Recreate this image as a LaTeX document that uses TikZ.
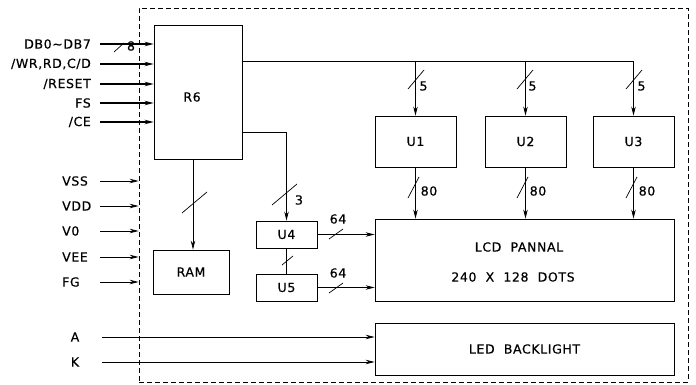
\documentclass[tikz,border=0pt]{standalone}
\usepackage{fontspec}
\setmainfont{DejaVu Sans}[LetterSpace=5,FakeBold=0.5]
\usetikzlibrary{arrows.meta}
\begin{document}
\begin{tikzpicture}[x=1pt,y=-1pt,
  font=\fontsize{12.5}{14}\selectfont,
  box/.style={draw,line width=0.8pt,inner sep=0pt},
  conn/.style={line width=0.8pt},
  arr/.style={conn,-{Stealth[length=9pt,width=4.5pt]}},
  thickarr/.style={line width=1.4pt,-{Stealth[length=9pt,width=4.5pt]}},
  slash/.style={line width=0.7pt},
  frame/.style={draw,line width=0.8pt,dash pattern=on 5pt off 3pt}]
\useasboundingbox (0,0) rectangle (696,385);
\fill[white] (0,0) rectangle (696,385);

% frame
\node[frame,minimum width=549pt,minimum height=374pt,inner sep=0pt] (fr) at (413.5,195) {};

% boxes
\node[box,minimum width=88pt,minimum height=134pt] (R6) at (198,92) {};
\node (R6t) at (192,97) {R6};
\node[box,minimum width=76pt,minimum height=44pt] (RAM) at (191,272) {RAM};
\node[box,minimum width=81pt,minimum height=51pt] (U1) at (415.5,141.5) {U1};
\node[box,minimum width=81pt,minimum height=51pt] (U2) at (525.5,141.5) {U2};
\node[box,minimum width=81pt,minimum height=51pt] (U3) at (633.5,141.5) {U3};
\node[box,minimum width=61pt,minimum height=27pt] (U4) at (286.5,234.5) {U4};
\node[box,minimum width=61pt,minimum height=27pt] (U5) at (286.5,287.5) {U5};
\node[box,minimum width=299pt,minimum height=82pt] (LCD) at (524.5,260) {};
\node (LCDa) at (519,247) {LCD\ \ PANNAL};
\node (LCDb) at (513,277) {240\ \ X\ \ 128\ \ DOTS};
\node[box,minimum width=299pt,minimum height=52pt] (LED) at (524.5,349) {LED\ \ BACKLIGHT};

% left inputs to R6
\foreach \n/\y/\t in {i1/44/{DB0\textasciitilde DB7}, i2/64/{/WR,RD,C/D}, i3/84/{/RESET}, i4/103/{FS}, i5/122/{/CE}}{
  \coordinate (\n) at (100,\y);
  \node[anchor=east,inner sep=0pt] (\n l) at (91,\y) {\t};
  \draw[thickarr] (\n) -- (\n -| R6.west);
}
\draw[slash] (114,52) -- (124,43);
\node (n8) at (131,46) {8};

% power inputs
\foreach \n/\y/\t in {p1/181/VSS, p2/206/VDD, p3/231/V0, p4/257/VEE, p5/282/FG}{
  \coordinate (\n) at (100,\y);
  \node[anchor=west,inner sep=0pt] (\n l) at (62,\y) {\t};
  \draw[arr] (\n) -- (\n -| fr.west);
}

% backlight inputs
\foreach \n/\y/\t in {a/337/A, k/362/K}{
  \coordinate (\n) at (102,\y);
  \node (\n l) at (75,\y) {\t};
  \draw[arr] (\n) -- (\n -| LED.west);
}

% R6 bus to U1..U3
\coordinate (b0) at (242,61);
\draw[arr] (b0) -| (U3.north);
\draw[arr] (U1.north |- b0) -- (U1.north);
\draw[arr] (U2.north |- b0) -- (U2.north);
\foreach \x/\n in {416/s1,525/s2,634/s3}{
  \draw[slash] (\x-8,89) -- (\x+8,70);
  \node (\n) at (\x+7.5,86) {5};
}

% U1..U3 to LCD
\draw[arr] (U1.south) -- (U1.south |- LCD.north);
\draw[arr] (U2.south) -- (U2.south |- LCD.north);
\draw[arr] (U3.south) -- (U3.south |- LCD.north);
\foreach \x/\n in {416/e1,525/e2,634/e3}{
  \draw[slash] (\x-8,198) -- (\x+3,177);
  \node (\n) at (\x+13,191) {80};
}

% R6 to U4
\coordinate (b1) at (242,132);
\draw[arr] (b1) -| (U4.north);
\draw[slash] (272,205) -- (297,184);
\node (n3) at (299,200) {3};

% U4 - U5
\draw[conn] (U4.south) -- (U5.north);
\draw[slash] (282,265) -- (293,256);

% R6 to RAM
\draw[arr] (R6.south -| 193,0) -- (RAM.north -| 193,0);
\draw[slash] (182,213) -- (207,192);

% U4, U5 to LCD
\draw[arr] (U4.east) -- (U4.east -| LCD.west);
\draw[arr] (U5.east) -- (U5.east -| LCD.west);
\draw[slash] (329,239) -- (343,229);
\draw[slash] (329,293) -- (343,283);
\node (n64a) at (338,219) {64};
\node (n64b) at (338,273) {64};
\end{tikzpicture}
\end{document}
